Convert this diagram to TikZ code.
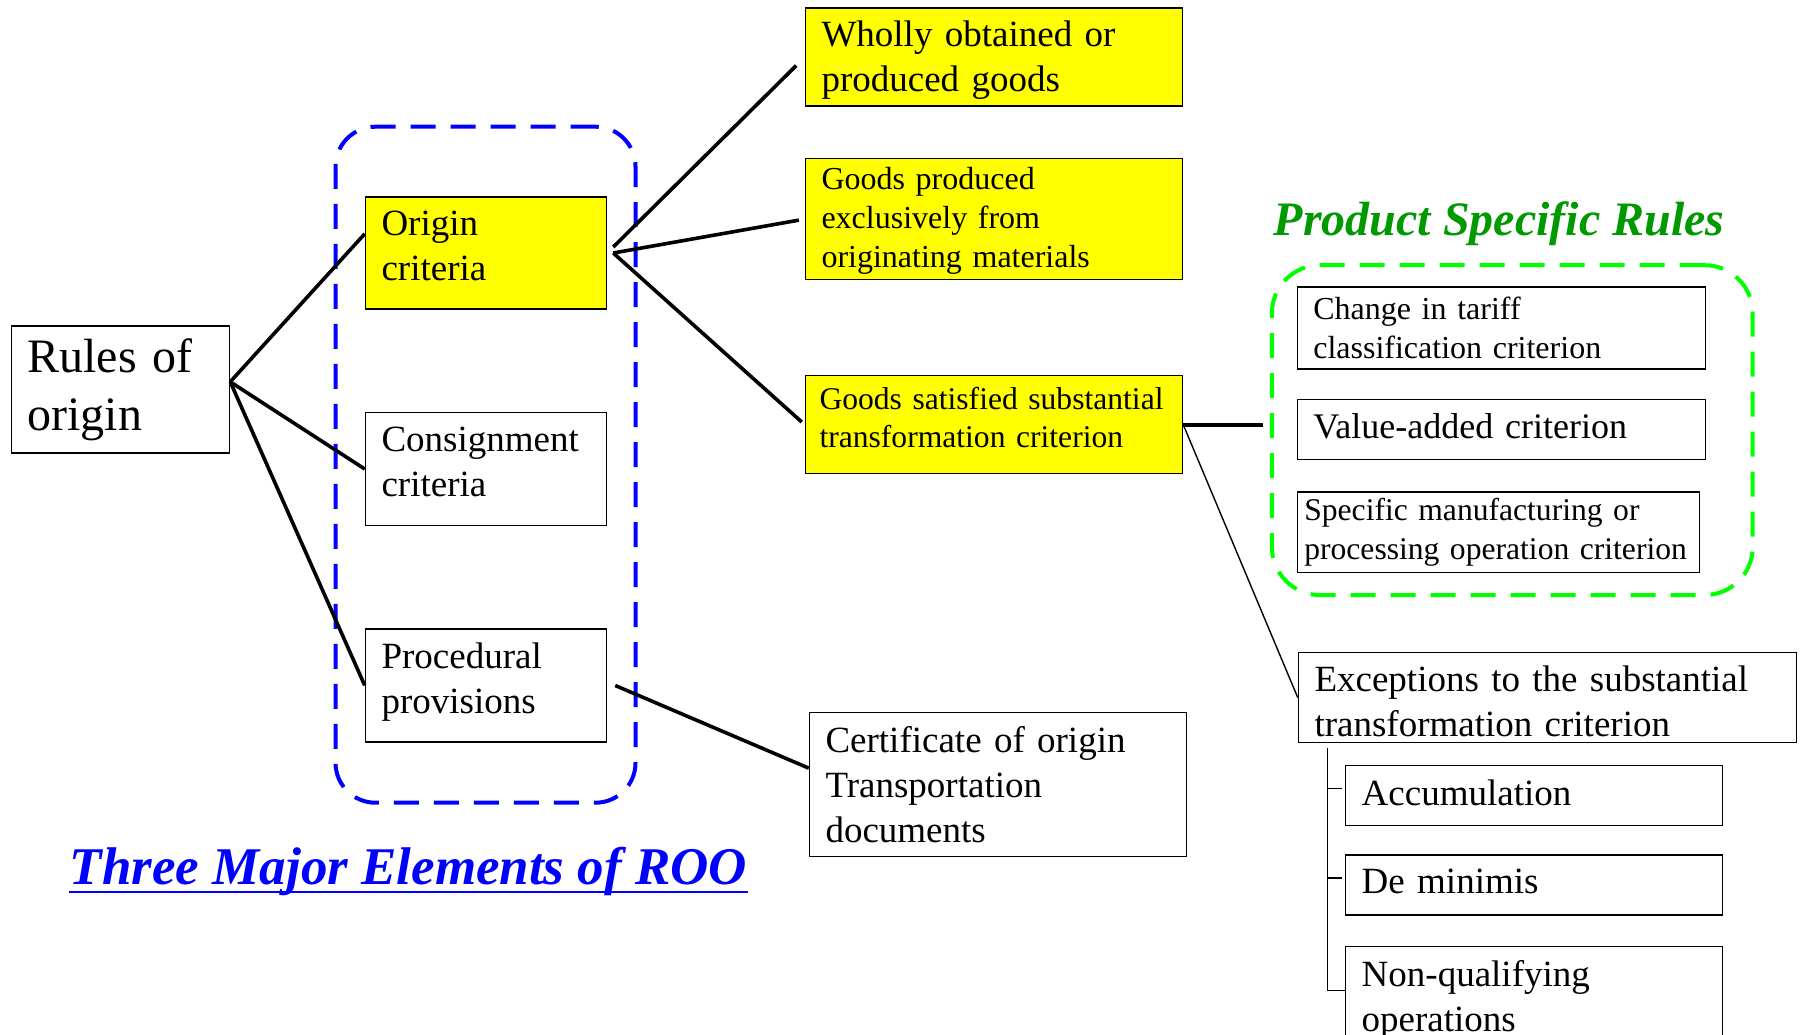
\documentclass[tikz,border=0pt]{standalone}
\usepackage{fontspec}
\setmainfont{Liberation Serif}
\usepackage{tikz}
\usetikzlibrary{positioning}
\definecolor{rooyellow}{RGB}{255,255,0}
\definecolor{rooblue}{RGB}{0,0,255}
\definecolor{psrgreen}{RGB}{0,255,0}
\definecolor{titlegreen}{RGB}{0,153,0}
\newcommand{\fsBig}{\fontsize{24}{29}\selectfont}
\newcommand{\fsMid}{\fontsize{18.5}{22.5}\selectfont}
\newcommand{\fsSmall}{\fontsize{16}{19.3}\selectfont}

\begin{document}
\begin{tikzpicture}[
    x=0.5pt, y=-0.5pt,
    entry/.style={rectangle, draw=black, line width=0.75pt, align=left,
                  inner xsep=8pt, inner ysep=0pt, font=\fsMid},
    keyentry/.style={entry, fill=rooyellow},
    grpframe/.style={rectangle, rounded corners=20pt, line width=2pt,
                     dash pattern=on 12.5pt off 7.5pt},
    fanline/.style={line width=1.8pt},
    thinline/.style={line width=0.7pt},
    heading/.style={font=\fontsize{24}{29}\selectfont\bfseries\itshape,
                    inner sep=0pt, anchor=base}
]
\useasboundingbox (0,0) rectangle (1808,1034);

% Group frames
\node[grpframe, draw=rooblue, minimum width=150pt, minimum height=338pt] (roobox) at (485.5,464.7) {};
\node[grpframe, draw=psrgreen, rounded corners=24pt, minimum width=240.4pt, minimum height=164.9pt] (psrbox) at (1512.3,430.1) {};

% Rules of origin and its three elements
\node[entry, font=\fsBig, text width=93pt, minimum height=63.5pt] (rules) at (120.5,389.5) {Rules of\\origin};
\node[keyentry, text width=104.5pt, minimum height=56pt, text depth=29.5pt] (origin) at (486,253) {Origin\\criteria};
\node[entry, text width=104.5pt, minimum height=56.5pt, text depth=29.5pt, below=51pt of origin] (consign) {Consignment\\criteria};
\node[entry, text width=104.5pt, minimum height=56.5pt, text depth=29.5pt, below=51pt of consign] (proced) {Procedural\\provisions};

% Origin criteria
\node[keyentry, text width=172.5pt, minimum height=49pt, text depth=23.5pt] (wholly) at (994,57.1) {Wholly obtained or\\produced goods};
\node[keyentry, font=\fsSmall, text width=172.5pt, minimum height=60.5pt, text depth=40.3pt, below=25.5pt of wholly] (goodsprod) {Goods produced\\exclusively from\\originating materials};
\node[keyentry, font=\fontsize{15.8}{19}\selectfont, inner xsep=7pt, text width=174.5pt, minimum height=49pt, text depth=26pt, below=47.3pt of goodsprod] (goodssat) {Goods satisfied substantial\\transformation criterion};

% Product specific rules
\node[heading, text=titlegreen] (psrtitle) at (1499,235) {Product Specific Rules};
\node[entry, font=\fsSmall, text width=188pt, minimum height=41pt] (tariff) at (1501.3,328) {Change in tariff\\classification criterion};
\node[entry, font=\fontsize{18}{22}\selectfont, text width=188pt, minimum height=30pt, text depth=3pt, below=14.4pt of tariff] (value) {Value-added criterion};
\node[entry, font=\fontsize{15.8}{19.3}\selectfont, inner xsep=3.5pt, text width=194pt, minimum height=40.4pt, below right=15.5pt and 0pt of value.south west] (specific) {Specific manufacturing or\\processing operation criterion};

% Exceptions
\node[entry, text width=233pt, minimum height=45pt, text depth=18.5pt] (except) at (1547.5,697.6) {Exceptions to the substantial\\transformation criterion};
\node[entry, text width=172.5pt, minimum height=30pt, text depth=3pt] (accum) at (1534.2,795.6) {Accumulation};
\node[entry, text width=172.5pt, minimum height=30pt, text depth=3.5pt, below=14pt of accum] (demin) {De minimis};
\node[entry, text width=172.5pt, minimum height=56pt, text depth=29.3pt, below=15pt of demin] (nonqual) {Non-qualifying\\operations};

% Procedural provisions
\node[entry, text width=172.5pt, minimum height=72pt] (cert) at (998,784.7) {Certificate of origin\\Transportation\\documents};

\node[heading, font=\fontsize{26.5}{32}\selectfont\bfseries\itshape, text=rooblue] (rootitle) at (408.5,884) {Three Major Elements of ROO};
\draw[rooblue, line width=1.3pt] ([yshift=-4pt]rootitle.base west) -- ([yshift=-4pt]rootitle.base east);

% Connections
\draw[fanline] (rules.4) -- (origin.171);
\draw[fanline] (rules.4) -- (consign.west);
\draw[fanline] (rules.4) -- (proced.west);
\draw[fanline, shorten >=6pt] ([xshift=3pt,yshift=3pt]origin.east) -- (wholly.west);
\draw[fanline, shorten >=3pt] ([xshift=3pt]origin.east) -- (goodsprod.west);
\draw[fanline, shorten >=2pt] ([xshift=3pt]origin.east) -- (goodssat.west);
\draw[fanline] ([xshift=4pt]proced.east) -- (cert.175);
\draw[fanline, shorten >=3.5pt] (goodssat.east) -- (goodssat.east -| psrbox.west);
\draw[thinline] (goodssat.east) -- (except.west);

\coordinate (trunk) at ([xshift=14.8pt,yshift=-2.2pt]except.south west);
\draw[thinline] (trunk) |- ([yshift=6pt]nonqual.west);
\foreach \leaf in {accum, demin}
    \draw[thinline, shorten >=1.5pt] ([yshift=3.5pt]\leaf.west -| trunk) -- ([yshift=3.5pt]\leaf.west);

\end{tikzpicture}
\end{document}
